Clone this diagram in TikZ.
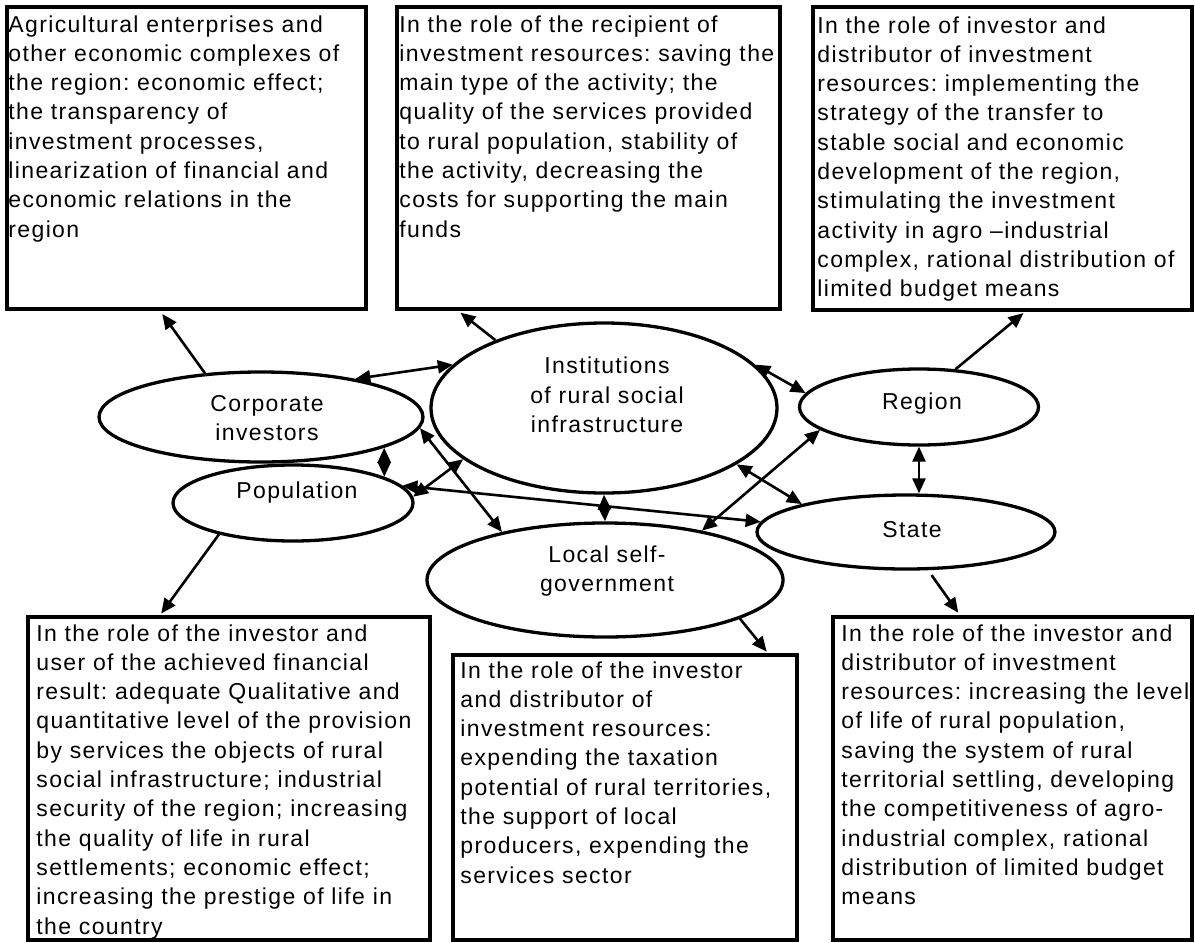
\documentclass[tikz,border=0pt]{standalone}
\usepackage{fontspec}
\setmainfont{Liberation Sans}[LetterSpace=6]
\frenchspacing
\usetikzlibrary{shapes.geometric,positioning,arrows.meta}
\tikzstyle{actor} = [ellipse, draw=black, line width=3.3pt, inner sep=0pt]
\tikzstyle{actorname} = [align=center, inner sep=0pt, font=\fontsize{23}{29.3}\selectfont]
\tikzstyle{rolebox} = [rectangle, draw=black, line width=3.6pt, inner sep=0pt]
\tikzstyle{roletext} = [align=left, inner sep=0pt, font=\fontsize{23}{29.3}\selectfont]
\tikzstyle{arrow} = [line width=2.6pt,->,>={Triangle[length=15pt,width=13pt]}]
\tikzstyle{dblarrow} = [line width=2.6pt,<->,>={Triangle[length=15pt,width=13pt]}]

\begin{document}
\begin{tikzpicture}[x=1pt,y=-1pt]
\useasboundingbox (0,0) rectangle (1195,943);
% participants
\node (ci) at (261,417) [actor, minimum width=324, minimum height=90] {};
\node (ci-t) at (267,418) [actorname] {Corporate\\investors};
\node (pop) at (293,503) [actor, minimum width=240, minimum height=76] {};
\node (pop-t) at (297,493) [actorname] {Population};
\node (inst) at (604,408) [actor, minimum width=346, minimum height=170] {};
\node (inst-t) at (607,395) [actorname] {Institutions\\of rural social\\infrastructure};
\node (lsg) at (605,580) [actor, minimum width=356, minimum height=114] {};
\node (lsg-t) at (607,571) [actorname] {Local self-\\government};
\node (reg) at (919,407) [actor, minimum width=239, minimum height=76] {};
\node (reg-t) at (922,404) [actorname] {Region};
\node (st) at (906,532) [actor, minimum width=298, minimum height=74] {};
\node (st-t) at (912,530) [actorname] {State};
% roles
\node (b1) at (186.5,158) [rolebox, minimum width=359, minimum height=302] {};
\node (b1-t) [roletext, below right=10pt and 3pt of b1.north west] {Agricultural enterprises and\\other economic complexes of\\the region: economic effect;\\the transparency of\\investment processes,\\linearization of financial and\\economic relations in the\\region};
\node (b2) at (588.5,158) [rolebox, minimum width=383, minimum height=302] {};
\node (b2-t) [roletext, below right=10pt and 4pt of b2.north west] {In the role of the recipient of\\investment resources: saving the\\main type of the activity; the\\quality of the services provided\\to rural population, stability of\\the activity, decreasing the\\costs for supporting the main\\funds};
\node (b3) at (1002.5,158.5) [rolebox, minimum width=379, minimum height=303] {};
\node (b3-t) [roletext, below right=11pt and 6pt of b3.north west] {In the role of investor and\\distributor of investment\\resources: implementing the\\strategy of the transfer to\\stable social and economic\\development of the region,\\stimulating the investment\\activity in agro --industrial\\complex, rational distribution of\\limited budget means};
\node (b4) at (229,778.5) [rolebox, minimum width=402, minimum height=323] {};
\node (b4-t) [roletext, below right=9pt and 10pt of b4.north west] {In the role of the investor and\\user of the achieved financial\\result: adequate Qualitative and\\quantitative level of the provision\\by services the objects of rural\\social infrastructure; industrial\\security of the region; increasing\\the quality of life in rural\\settlements; economic effect;\\increasing the prestige of life in\\the country};
\node (b5) at (625,797.5) [rolebox, minimum width=344, minimum height=285] {};
\node (b5-t) [roletext, below right=8pt and 9pt of b5.north west] {In the role of the investor\\and distributor of\\investment resources:\\expending the taxation\\potential of rural territories,\\the support of local\\producers, expending the\\services sector};
\node (b6) at (1012.5,778.5) [rolebox, minimum width=359, minimum height=323] {};
\node (b6-t) [roletext, below right=9pt and 10pt of b6.north west] {In the role of the investor and\\distributor of investment\\resources: increasing the level\\of life of rural population,\\saving the system of rural\\territorial settling, developing\\the competitiveness of agro-\\industrial complex, rational\\distribution of limited budget\\means};
% arrows to the roles
\draw[arrow, shorten >=4pt] (ci.142) -- (b1.south -| 160,0);
\draw[arrow, shorten >=3pt] (inst.148) -- (b2.south -| 458,0);
\draw[arrow, shorten >=2pt] (reg.46) -- (b3.south -| 1025,0);
\draw[arrow, shorten >=2pt] (pop.203) -- (b4.north -| 160,0);
\draw[arrow, shorten >=2pt] (lsg.-16) -- (b5.north -| 768,0);
\draw[arrow, shorten <=6pt, shorten >=3pt] (st.-60) -- (b6.north -| 960,0);
% links between participants
\draw[dblarrow] (ci.22) -- (inst.164);
\draw[dblarrow] (ci.-14) -- (pop.16);
\draw[dblarrow] (ci.-4) -- (lsg.155);
\draw[dblarrow] (pop.3) -- (inst.200);
\draw[dblarrow] (pop.9) -- (st.176);
\draw[dblarrow] (inst.south) -- (lsg.north);
\draw[dblarrow] (inst.16) -- (reg.173);
\draw[dblarrow] (inst.-23) -- (st.165);
\draw[dblarrow] (lsg.27) -- (reg.193);
\draw[dblarrow] (reg.south) -- (st.north -| reg.south);
\end{tikzpicture}
\end{document}
